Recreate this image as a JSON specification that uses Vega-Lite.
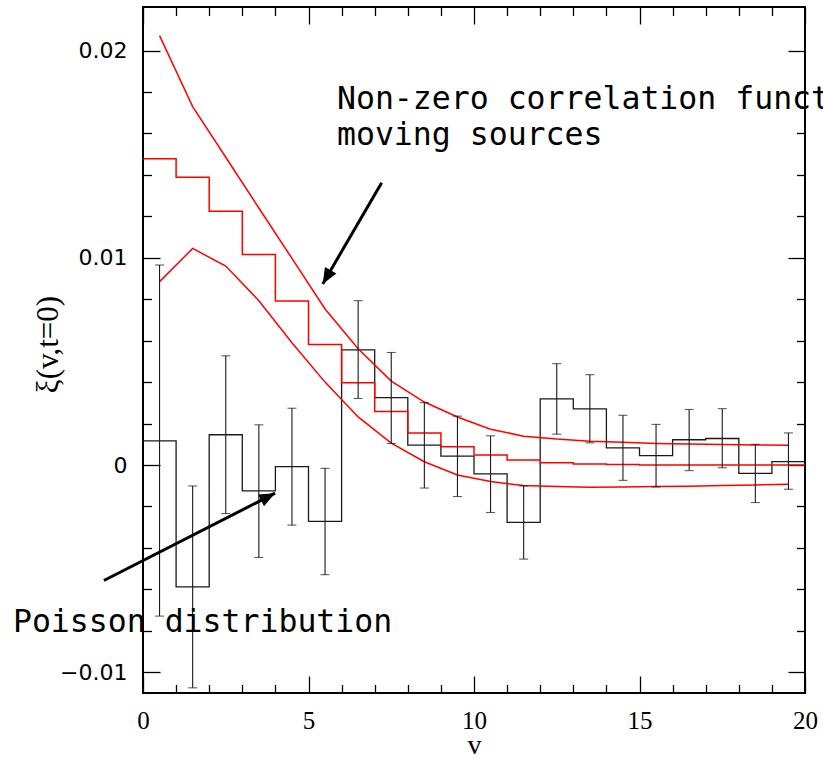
{
  "$schema": "https://vega.github.io/schema/vega-lite/v6.json",
  "width": 662,
  "height": 686,
  "autosize": {"type": "none"},
  "padding": {"left": 143, "top": 7, "right": 18, "bottom": 66},
  "background": "white",
  "config": {
    "view": {"stroke": "black", "strokeWidth": 2},
    "axis": {"grid": false, "domain": false, "tickColor": "black", "tickWidth": 1.3, "labelColor": "black", "titleColor": "black"}
  },
  "resolve": {"axis": {"x": "independent", "y": "independent"}},
  "datasets": {
    "black": [
      {"v": 0, "xi": 0.00117}, {"v": 1, "xi": -0.00588}, {"v": 2, "xi": 0.00146}, {"v": 3, "xi": -0.00125},
      {"v": 4, "xi": -0.00008}, {"v": 5, "xi": -0.00272}, {"v": 6, "xi": 0.00556}, {"v": 7, "xi": 0.00325},
      {"v": 8, "xi": 0.00096}, {"v": 9, "xi": 0.00043}, {"v": 10, "xi": -0.00043}, {"v": 11, "xi": -0.00277},
      {"v": 12, "xi": 0.00319}, {"v": 13, "xi": 0.00271}, {"v": 14, "xi": 0.00083}, {"v": 15, "xi": 0.00045},
      {"v": 16, "xi": 0.00122}, {"v": 17, "xi": 0.00128}, {"v": 18, "xi": -0.0004}, {"v": 19, "xi": 0.00016},
      {"v": 20, "xi": 0.00016}
    ],
    "errors": [
      {"v": 0.5, "lo": -0.00729, "hi": 0.00965}, {"v": 1.5, "lo": -0.01075, "hi": -0.00101},
      {"v": 2.5, "lo": -0.00234, "hi": 0.00527}, {"v": 3.5, "lo": -0.00446, "hi": 0.00194},
      {"v": 4.5, "lo": -0.0029, "hi": 0.00274}, {"v": 5.5, "lo": -0.00529, "hi": -0.00016},
      {"v": 6.5, "lo": 0.00321, "hi": 0.00793}, {"v": 7.5, "lo": 0.00104, "hi": 0.00543},
      {"v": 8.5, "lo": -0.00111, "hi": 0.00301}, {"v": 9.5, "lo": -0.00152, "hi": 0.00236},
      {"v": 10.5, "lo": -0.00229, "hi": 0.00141}, {"v": 11.5, "lo": -0.00454, "hi": -0.00101},
      {"v": 12.5, "lo": 0.00149, "hi": 0.00489}, {"v": 13.5, "lo": 0.00107, "hi": 0.00436},
      {"v": 14.5, "lo": -0.00074, "hi": 0.0024}, {"v": 15.5, "lo": -0.00106, "hi": 0.00196},
      {"v": 16.5, "lo": -0.00027, "hi": 0.00268}, {"v": 17.5, "lo": -0.00013, "hi": 0.00272},
      {"v": 18.5, "lo": -0.00181, "hi": 0.001}, {"v": 19.5, "lo": -0.00117, "hi": 0.00155}
    ],
    "redstep": [
      {"v": 0, "xi": 0.01478}, {"v": 1, "xi": 0.01389}, {"v": 2, "xi": 0.01224}, {"v": 3, "xi": 0.01016},
      {"v": 4, "xi": 0.00792}, {"v": 5, "xi": 0.00582}, {"v": 6, "xi": 0.00397}, {"v": 7, "xi": 0.00258},
      {"v": 8, "xi": 0.00154}, {"v": 9, "xi": 0.00088}, {"v": 10, "xi": 0.00048}, {"v": 11, "xi": 0.00024},
      {"v": 12, "xi": 0.00011}, {"v": 13, "xi": 0.00005}, {"v": 14, "xi": 0.00002}, {"v": 15, "xi": 0},
      {"v": 16, "xi": 0}, {"v": 17, "xi": 0}, {"v": 18, "xi": 0}, {"v": 19, "xi": 0}, {"v": 20, "xi": 0}
    ],
    "upper": [
      {"v": 0.5, "xi": 0.02072}, {"v": 1.5, "xi": 0.01729}, {"v": 2.5, "xi": 0.01485}, {"v": 3.5, "xi": 0.0124},
      {"v": 4.5, "xi": 0.00997}, {"v": 5.5, "xi": 0.00753}, {"v": 6.5, "xi": 0.00561}, {"v": 7.5, "xi": 0.00405},
      {"v": 8.5, "xi": 0.00304}, {"v": 9.5, "xi": 0.00232}, {"v": 10.5, "xi": 0.00173}, {"v": 11.5, "xi": 0.00139},
      {"v": 12.5, "xi": 0.00125}, {"v": 13.5, "xi": 0.00115}, {"v": 14.5, "xi": 0.0011}, {"v": 15.5, "xi": 0.00104},
      {"v": 16.5, "xi": 0.00101}, {"v": 17.5, "xi": 0.00099}, {"v": 18.5, "xi": 0.00097}, {"v": 19.5, "xi": 0.00095}
    ],
    "lower": [
      {"v": 0.5, "xi": 0.00885}, {"v": 1.5, "xi": 0.01045}, {"v": 2.5, "xi": 0.0096}, {"v": 3.5, "xi": 0.00793},
      {"v": 4.5, "xi": 0.0059}, {"v": 5.5, "xi": 0.004}, {"v": 6.5, "xi": 0.00232}, {"v": 7.5, "xi": 0.00106},
      {"v": 8.5, "xi": 0.00016}, {"v": 9.5, "xi": -0.00048}, {"v": 10.5, "xi": -0.0008}, {"v": 11.5, "xi": -0.00099},
      {"v": 12.5, "xi": -0.00104}, {"v": 13.5, "xi": -0.00107}, {"v": 14.5, "xi": -0.00106}, {"v": 15.5, "xi": -0.00104},
      {"v": 16.5, "xi": -0.00102}, {"v": 17.5, "xi": -0.00099}, {"v": 18.5, "xi": -0.00096}, {"v": 19.5, "xi": -0.00093}
    ],
    "arrows": [
      {"id": "corr", "x0": 7.21, "y0": 0.01362, "x1": 5.43, "y1": 0.00874},
      {"id": "poisson", "x0": -1.18, "y0": -0.00557, "x1": 3.99, "y1": -0.00136}
    ],
    "labels": [
      {"x": 5.86, "y": 0.0172, "label": "Non-zero correlation function for"},
      {"x": 5.86, "y": 0.01543, "label": "moving sources"},
      {"x": -3.93, "y": -0.00808, "label": "Poisson distribution"}
    ]
  },
  "layer": [
    {
      "data": {"name": "black"},
      "mark": {"type": "line", "interpolate": "step-after", "stroke": "#1a1a1a", "strokeWidth": 1.3},
      "encoding": {
        "x": {"field": "v", "type": "quantitative", "scale": {"domain": [0, 20], "nice": false, "zero": false},
          "axis": {"orient": "bottom", "values": [0, 5, 10, 15, 20], "tickSize": -17, "labelPadding": 32,
            "labelFont": "Liberation Serif", "labelFontSize": 25, "labelFlush": false, "labelOverlap": false, "labelBound": false,
            "title": "v", "titleFont": "Liberation Serif", "titleFontSize": 28, "titleFontWeight": "normal",
            "titleBaseline": "alphabetic", "titleY": 60}},
        "y": {"field": "xi", "type": "quantitative", "scale": {"domain": [-0.011, 0.0221], "nice": false, "zero": false},
          "axis": {"orient": "left", "values": [-0.01, 0, 0.01, 0.02], "format": ".2~f", "tickSize": -17, "labelPadding": 33,
            "labelFont": "DejaVu Sans", "labelFontSize": 22, "labelFlush": false, "labelOverlap": false, "labelBound": false,
            "title": "ξ(v,t=0)", "titleFont": "Liberation Serif", "titleFontSize": 31, "titleFontWeight": "normal",
            "titleAngle": -90, "titleBaseline": "middle", "titleX": -95, "titleY": 337}}
      }
    },
    {
      "data": {"name": "redstep"},
      "mark": {"type": "line", "interpolate": "step-after", "stroke": "#ff0000", "strokeWidth": 1.5},
      "encoding": {
        "x": {"field": "v", "type": "quantitative", "scale": {"domain": [0, 20], "nice": false, "zero": false},
          "axis": {"orient": "bottom", "values": [1, 2, 3, 4, 6, 7, 8, 9, 11, 12, 13, 14, 16, 17, 18, 19], "tickSize": -8.5, "labels": false, "title": null}},
        "y": {"field": "xi", "type": "quantitative", "scale": {"domain": [-0.011, 0.0221], "nice": false, "zero": false},
          "axis": {"orient": "left", "values": [-0.008, -0.006, -0.004, -0.002, 0.002, 0.004, 0.006, 0.008, 0.012, 0.014, 0.016, 0.018], "tickSize": -8.5, "labels": false, "title": null}}
      }
    },
    {
      "data": {"name": "upper"},
      "mark": {"type": "line", "stroke": "#ff0000", "strokeWidth": 1.5},
      "encoding": {
        "x": {"field": "v", "type": "quantitative", "scale": {"domain": [0, 20], "nice": false, "zero": false},
          "axis": {"orient": "top", "values": [0, 5, 10, 15, 20], "tickSize": -17, "labels": false, "title": null}},
        "y": {"field": "xi", "type": "quantitative", "scale": {"domain": [-0.011, 0.0221], "nice": false, "zero": false},
          "axis": {"orient": "right", "values": [-0.01, 0, 0.01, 0.02], "tickSize": -17, "labels": false, "title": null}}
      }
    },
    {
      "data": {"name": "lower"},
      "mark": {"type": "line", "stroke": "#ff0000", "strokeWidth": 1.5},
      "encoding": {
        "x": {"field": "v", "type": "quantitative", "scale": {"domain": [0, 20], "nice": false, "zero": false},
          "axis": {"orient": "top", "values": [1, 2, 3, 4, 6, 7, 8, 9, 11, 12, 13, 14, 16, 17, 18, 19], "tickSize": -8.5, "labels": false, "title": null}},
        "y": {"field": "xi", "type": "quantitative", "scale": {"domain": [-0.011, 0.0221], "nice": false, "zero": false},
          "axis": {"orient": "right", "values": [-0.008, -0.006, -0.004, -0.002, 0.002, 0.004, 0.006, 0.008, 0.012, 0.014, 0.016, 0.018], "tickSize": -8.5, "labels": false, "title": null}}
      }
    },
    {
      "data": {"name": "errors"},
      "mark": {"type": "rule", "stroke": "#1a1a1a", "strokeWidth": 1.1},
      "encoding": {
        "x": {"field": "v", "type": "quantitative", "axis": null},
        "y": {"field": "lo", "type": "quantitative", "axis": null},
        "y2": {"field": "hi"}
      }
    },
    {
      "data": {"name": "errors"},
      "mark": {"type": "tick", "orient": "horizontal", "color": "#1a1a1a", "size": 9, "thickness": 1.1},
      "encoding": {
        "x": {"field": "v", "type": "quantitative", "axis": null},
        "y": {"field": "lo", "type": "quantitative", "axis": null}
      }
    },
    {
      "data": {"name": "errors"},
      "mark": {"type": "tick", "orient": "horizontal", "color": "#1a1a1a", "size": 9, "thickness": 1.1},
      "encoding": {
        "x": {"field": "v", "type": "quantitative", "axis": null},
        "y": {"field": "hi", "type": "quantitative", "axis": null}
      }
    },
    {
      "data": {"name": "arrows"},
      "mark": {"type": "rule", "stroke": "black", "strokeWidth": 3},
      "encoding": {
        "x": {"field": "x0", "type": "quantitative", "axis": null},
        "y": {"field": "y0", "type": "quantitative", "axis": null},
        "x2": {"field": "x1"},
        "y2": {"field": "y1"}
      }
    },
    {
      "data": {"name": "arrows"},
      "transform": [{"filter": "datum.id === 'corr'"}],
      "mark": {"type": "point", "shape": "M0,0 L0.42,1 L-0.42,1 Z", "filled": true, "fill": "black", "strokeWidth": 0, "opacity": 1, "size": 1000, "angle": 210.1},
      "encoding": {
        "x": {"field": "x1", "type": "quantitative", "axis": null},
        "y": {"field": "y1", "type": "quantitative", "axis": null}
      }
    },
    {
      "data": {"name": "arrows"},
      "transform": [{"filter": "datum.id === 'poisson'"}],
      "mark": {"type": "point", "shape": "M0,0 L0.42,1 L-0.42,1 Z", "filled": true, "fill": "black", "strokeWidth": 0, "opacity": 1, "size": 1000, "angle": 62.9},
      "encoding": {
        "x": {"field": "x1", "type": "quantitative", "axis": null},
        "y": {"field": "y1", "type": "quantitative", "axis": null}
      }
    },
    {
      "data": {"name": "labels"},
      "mark": {"type": "text", "align": "left", "baseline": "alphabetic", "font": "DejaVu Sans Mono", "fontSize": 31.5, "color": "black"},
      "encoding": {
        "x": {"field": "x", "type": "quantitative", "axis": null},
        "y": {"field": "y", "type": "quantitative", "axis": null},
        "text": {"field": "label"}
      }
    }
  ]
}
